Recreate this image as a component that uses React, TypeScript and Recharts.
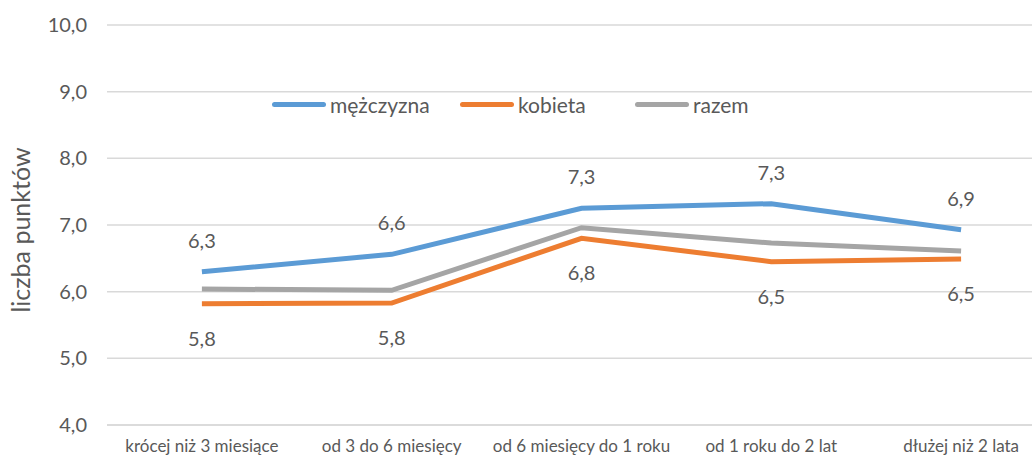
import React from "react";
import { LineChart, Line, XAxis, YAxis, CartesianGrid, LabelList } from "recharts";

const categories = [
  "krócej niż 3 miesiące",
  "od 3 do 6 miesięcy",
  "od 6 miesięcy do 1 roku",
  "od 1 roku do 2 lat",
  "dłużej niż 2 lata",
];
const mezczyzna = [6.3, 6.56, 7.25, 7.32, 6.93];
const kobieta = [5.82, 5.83, 6.8, 6.45, 6.49];
const razem = [6.04, 6.02, 6.96, 6.73, 6.61];
const yTicks = [4, 5, 6, 7, 8, 9, 10];

const seriesDefs = [
  { key: "mezczyzna", name: "mężczyzna", color: "#5B9BD5", left: 272 },
  { key: "kobieta", name: "kobieta", color: "#ED7D31", left: 460 },
  { key: "razem", name: "razem", color: "#A5A5A5", left: 635 },
];

const data = categories.map((c, i) => ({
  cat: c,
  mezczyzna: mezczyzna[i],
  kobieta: kobieta[i],
  razem: razem[i],
}));

const FONT = "Lato, 'Open Sans', sans-serif";
const TXT = "#595959";
const fmt = (v: number) => v.toFixed(1).replace(".", ",");

const makeLabel = (dy: number) => (props: any) => {
  const { x, y, value } = props;
  return (
    <text
      x={x}
      y={y + dy}
      textAnchor="middle"
      dominantBaseline="central"
      fontFamily={FONT}
      fontSize={20}
      fill={TXT}
    >
      {fmt(Number(value))}
    </text>
  );
};

export default function App() {
  return (
    <div style={{ position: "absolute", left: 0, top: 0, width: 1032, height: 457, overflow: "hidden", background: "#fff" }}>
      <LineChart
        width={1066}
        height={457}
        data={data}
        margin={{ top: 25, right: 10, bottom: 0, left: 0 }}
      >
        <CartesianGrid horizontal={true} vertical={false} stroke="#D9D9D9" strokeWidth={1.5} />
        <XAxis
          dataKey="cat"
          scale="band"
          axisLine={{ stroke: "#D9D9D9", strokeWidth: 1.5 }}
          tickLine={false}
          tickSize={0}
          tickMargin={15}
          height={32}
          interval={0}
          tick={{ fontFamily: FONT, fontSize: 17, fill: TXT }}
        />
        <YAxis
          domain={[4, 10]}
          ticks={yTicks}
          width={107}
          axisLine={false}
          tickLine={false}
          tickSize={0}
          tickMargin={20}
          tickFormatter={(v: number) => fmt(v)}
          tick={{ fontFamily: FONT, fontSize: 20, fill: TXT }}
          label={{
            content: () => (
              <text
                x={20}
                y={230}
                transform="rotate(-90 20 230)"
                textAnchor="middle"
                dominantBaseline="central"
                fontFamily={FONT}
                fontSize={25}
                fill={TXT}
              >
                liczba punktów
              </text>
            ),
          }}
        />
        <Line
          type="linear"
          dataKey="razem"
          name="razem"
          stroke="#A5A5A5"
          strokeWidth={5}
          dot={false}
          isAnimationActive={false}
        />
        <Line
          type="linear"
          dataKey="kobieta"
          name="kobieta"
          stroke="#ED7D31"
          strokeWidth={5}
          dot={false}
          isAnimationActive={false}
        >
          <LabelList dataKey="kobieta" content={makeLabel(34)} />
        </Line>
        <Line
          type="linear"
          dataKey="mezczyzna"
          name="mężczyzna"
          stroke="#5B9BD5"
          strokeWidth={5}
          dot={false}
          isAnimationActive={false}
        >
          <LabelList dataKey="mezczyzna" content={makeLabel(-32)} />
        </Line>
      </LineChart>
      {seriesDefs.map((s) => (
        <div
          key={s.key}
          style={{
            position: "absolute",
            left: s.left,
            top: 91,
            height: 26,
            display: "flex",
            alignItems: "center",
            fontFamily: FONT,
            fontSize: 21,
            color: TXT,
            whiteSpace: "nowrap",
          }}
        >
          <div style={{ width: 54, height: 5, borderRadius: 3, background: s.color, marginRight: 4 }} />
          <span>{s.name}</span>
        </div>
      ))}
    </div>
  );
}
